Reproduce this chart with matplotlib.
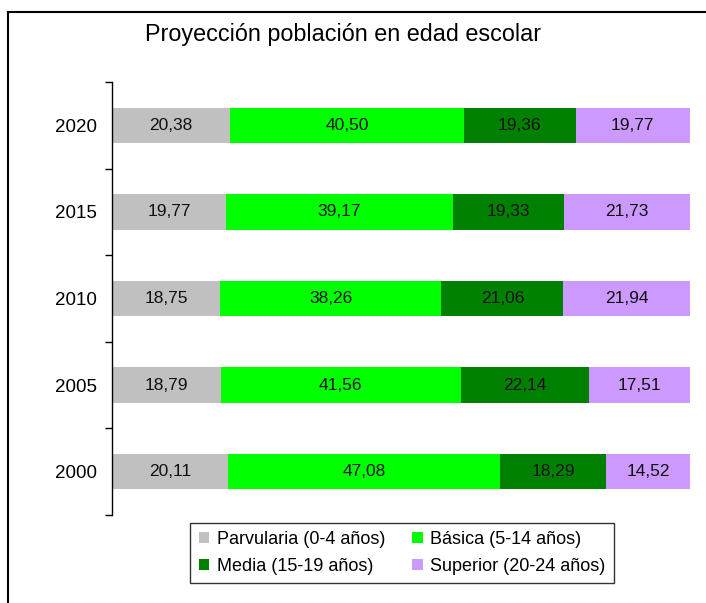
import numpy as np
import matplotlib.pyplot as plt
from matplotlib.lines import Line2D

plt.rcParams['font.family'] = ['Liberation Sans', 'DejaVu Sans']

# datos (porcentaje por tramo de edad)
years = ["2000", "2005", "2010", "2015", "2020"]
series = ["Parvularia (0-4 años)", "Básica (5-14 años)",
          "Media (15-19 años)", "Superior (20-24 años)"]
parvularia = [20.11, 18.79, 18.75, 19.77, 20.38]
basica = [47.08, 41.56, 38.26, 39.17, 40.50]
media = [18.29, 22.14, 21.06, 19.33, 19.36]
superior = [14.52, 17.51, 21.94, 21.73, 19.77]
colors = ["#C0C0C0", "#00FF00", "#008000", "#CC99FF"]

fig = plt.figure(figsize=(7.06, 6.03), dpi=100)
ax = fig.add_axes([112 / 706, 1 - 515 / 603, 578 / 706, 433 / 603])

y = np.arange(len(years))
left = np.zeros(len(years))
for vals, col, name in zip([parvularia, basica, media, superior], colors, series):
    vals = np.array(vals)
    bars = ax.barh(y, vals, left=left, height=0.41, color=col, label=name)
    for b, v in zip(bars, vals):
        ax.text(b.get_x() + b.get_width() / 2, b.get_y() + b.get_height() / 2,
                f"{v:.2f}".replace(".", ","), ha="center", va="center",
                fontsize=12.5, color="#111111")
    left += vals

ax.set_xlim(0, left.max())
ax.set_ylim(-0.5, len(years) - 0.5)
ax.set_yticks(y)
ax.set_yticklabels(years, fontsize=13.5)
ax.tick_params(axis="y", which="major", length=0, pad=11)
ax.set_yticks(np.arange(-0.5, len(years), 1), minor=True)
ax.tick_params(axis="y", which="minor", length=5, width=1)
ax.set_xticks([])
for s in ["top", "right", "bottom"]:
    ax.spines[s].set_visible(False)
ax.spines["left"].set_linewidth(1)

fig.text(343 / 706, 1 - 34 / 603, "Proyección población en edad escolar",
         ha="center", va="center", fontsize=16.8)

# borde del gráfico (solo izquierda y arriba visibles)
fig.add_artist(Line2D([8 / 706, 8 / 706], [0, 1 - 12 / 603], color="black", lw=1.5,
                      transform=fig.transFigure))
fig.add_artist(Line2D([8 / 706, 1], [1 - 12 / 603, 1 - 12 / 603], color="black", lw=1.5,
                      transform=fig.transFigure))

h, l = ax.get_legend_handles_labels()
order = [0, 2, 1, 3]
leg = fig.legend([h[i] for i in order], [l[i] for i in order], ncol=2,
                 loc="center", bbox_to_anchor=(402 / 706, 1 - 553 / 603),
                 fontsize=13, frameon=True, fancybox=False, edgecolor="black",
                 handlelength=0.6, handleheight=0.6, handletextpad=0.4,
                 columnspacing=1.5, labelspacing=0.55, borderpad=0.45)
leg.get_frame().set_linewidth(1)

fig.savefig("out.png", dpi=100)
